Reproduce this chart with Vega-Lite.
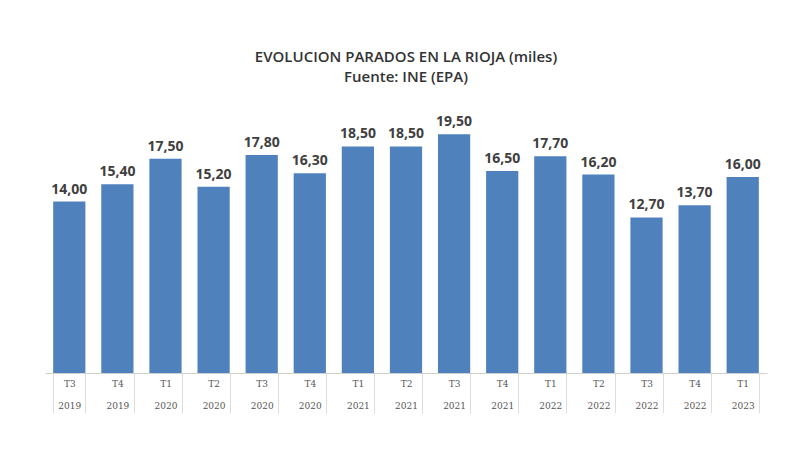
{
  "$schema": "https://vega.github.io/schema/vega-lite/v6.json",
  "width": 722,
  "height": 245,
  "autosize": "none",
  "padding": {"left": 45, "top": 128, "right": 33, "bottom": 77},
  "background": "white",
  "title": {
    "text": ["EVOLUCION  PARADOS EN LA RIOJA (miles)", "Fuente: INE (EPA)"],
    "fontSize": 15,
    "font": "Open Sans",
    "fontWeight": 600,
    "color": "#333333",
    "anchor": "middle",
    "offset": 30,
    "lineHeight": 20
  },
  "data": {
    "values": [
      {"p": "T3|2019", "v": 14.0, "l": "14,00"},
      {"p": "T4|2019", "v": 15.4, "l": "15,40"},
      {"p": "T1|2020", "v": 17.5, "l": "17,50"},
      {"p": "T2|2020", "v": 15.2, "l": "15,20"},
      {"p": "T3|2020", "v": 17.8, "l": "17,80"},
      {"p": "T4|2020", "v": 16.3, "l": "16,30"},
      {"p": "T1|2021", "v": 18.5, "l": "18,50"},
      {"p": "T2|2021", "v": 18.5, "l": "18,50"},
      {"p": "T3|2021", "v": 19.5, "l": "19,50"},
      {"p": "T4|2021", "v": 16.5, "l": "16,50"},
      {"p": "T1|2022", "v": 17.7, "l": "17,70"},
      {"p": "T2|2022", "v": 16.2, "l": "16,20"},
      {"p": "T3|2022", "v": 12.7, "l": "12,70"},
      {"p": "T4|2022", "v": 13.7, "l": "13,70"},
      {"p": "T1|2023", "v": 16.0, "l": "16,00"}
    ]
  },
  "encoding": {
    "x": {
      "field": "p", "type": "nominal", "sort": null, "title": null,
      "scale": {"paddingInner": 0.33, "paddingOuter": 0.17},
      "axis": {
        "labelAngle": 0,
        "labelExpr": "split(datum.label, '|')",
        "labelFontSize": 9,
        "labelLineHeight": 22,
        "labelColor": "#555555",
        "labelFont": "DejaVu Serif",
        "labelPadding": -34,
        "tickBand": "extent",
        "tickSize": 40,
        "tickColor": "#dddddd",
        "domainColor": "#d0d0d0"
      }
    },
    "y": {
      "field": "v", "type": "quantitative",
      "scale": {"domain": [0, 20]},
      "axis": null
    }
  },
  "layer": [
    {"mark": {"type": "bar", "color": "#4f81bd"}},
    {
      "mark": {"type": "text", "dy": -12, "fontSize": 14, "fontWeight": "bold", "color": "#404040", "font": "Open Sans"},
      "encoding": {"text": {"field": "l"}}
    }
  ],
  "config": {"view": {"stroke": null}}
}
